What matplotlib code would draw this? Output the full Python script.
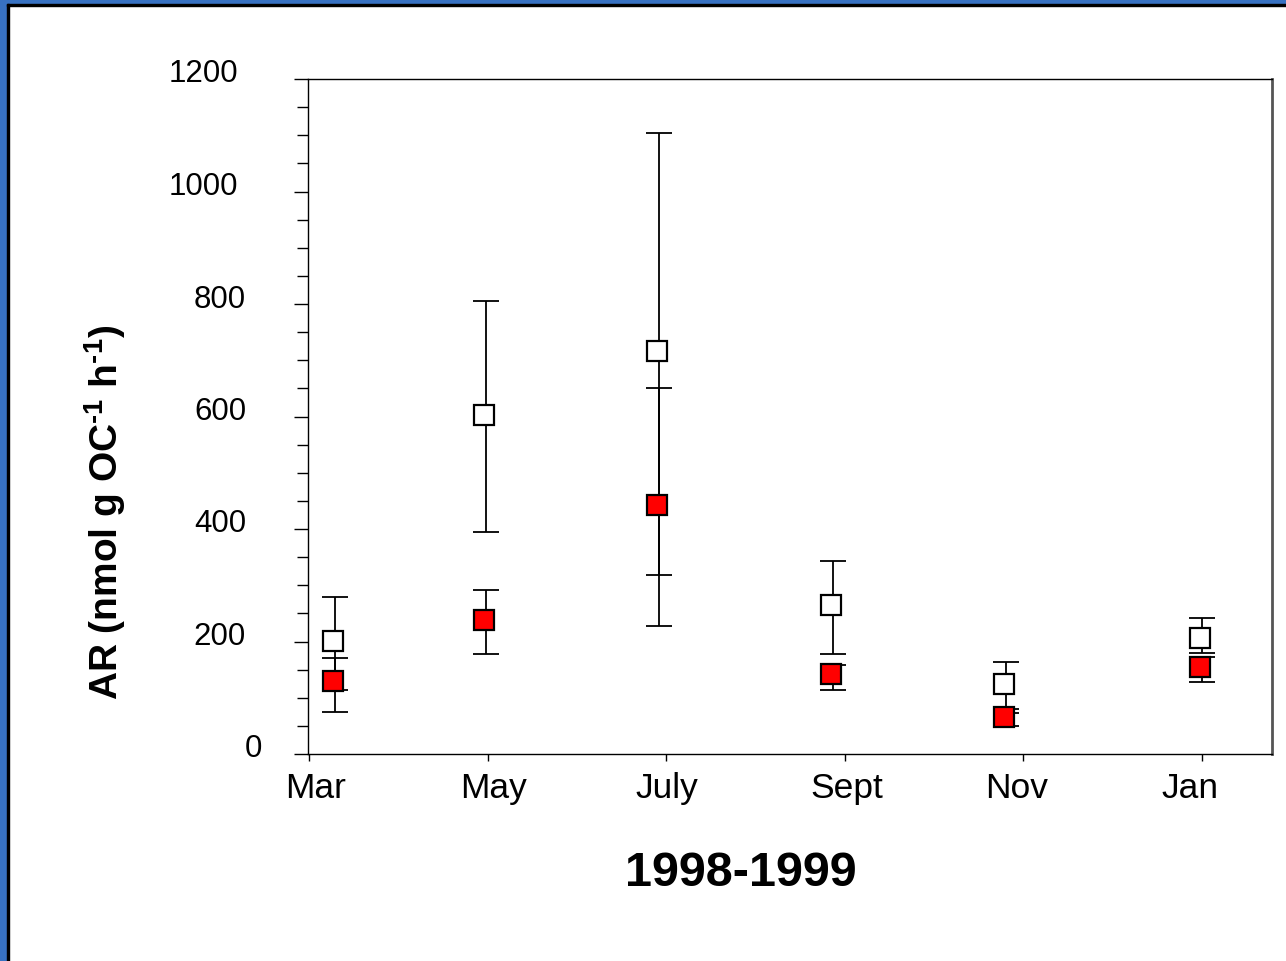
import matplotlib
matplotlib.use('Agg')
import matplotlib.pyplot as plt
import matplotlib.transforms as mtransforms
from matplotlib.patches import Rectangle

plt.rcParams['font.family'] = ['Liberation Sans', 'DejaVu Sans']
plt.rcParams['mathtext.fontset'] = 'custom'
plt.rcParams['mathtext.rm'] = 'Liberation Sans'
plt.rcParams['mathtext.bf'] = 'Liberation Sans:bold'

# month tick labels and sampling positions (in month-pair units from Mar)
months = ['Mar', 'May', 'July', 'Sept', 'Nov', 'Jan']
sample_x = [0.134, 0.98, 1.949, 2.923, 3.89, 4.989]

# open squares
open_y = [201, 603, 717, 265, 125, 207]
open_lo = [87, 208, 398, 87, 45, 27]
open_hi = [79, 202, 387, 79, 39, 35]

# red squares
red_y = [130, 239, 443, 143, 66, 155]
red_lo = [55, 61, 215, 29, 16, 27]
red_hi = [41, 53, 207, 15, 7, 18]

yticks = [0, 200, 400, 600, 800, 1000, 1200]

fig = plt.figure(figsize=(12.86, 9.62), dpi=100)
ax = fig.add_axes([308/1286, 1-755/962, (1272-308)/1286, (755-80)/962])

# small shift of the bars to the right, like the original
shift = mtransforms.ScaledTranslation(2/100, 0, fig.dpi_scale_trans)
etr = ax.transData + shift

ax.errorbar(sample_x, open_y, yerr=[open_lo, open_hi], fmt='none', ecolor='black',
            elinewidth=1.3, capsize=9.6, capthick=1.3, transform=etr, zorder=2)
ax.plot(sample_x, open_y, 's', ms=14, mfc='white', mec='black', mew=1.6, zorder=3)
ax.errorbar(sample_x, red_y, yerr=[red_lo, red_hi], fmt='none', ecolor='black',
            elinewidth=1.3, capsize=9.6, capthick=1.3, transform=etr, zorder=4)
ax.plot(sample_x, red_y, 's', ms=14, mfc='#ff0000', mec='black', mew=1.6, zorder=5)

ax.set_xlim(-0.006, 5.392)
ax.set_ylim(0, 1200)
ax.set_xticks(range(len(months)))
ax.set_xticklabels(months, fontsize=25.5)
ax.set_yticks(yticks)
ax.set_yticks(range(50, 1200, 50), minor=True)
ax.set_yticklabels([])
ax.tick_params(axis='y', which='major', direction='out', length=10, width=1)
ax.tick_params(axis='y', which='minor', direction='out', length=8, width=1)
ax.tick_params(axis='x', direction='out', length=5, width=1, pad=7)

# the month labels sit a little off their ticks in the original
for lab, dx in zip(ax.get_xticklabels(), [6, 6, 1, 2, -7, -12]):
    lab.set_transform(lab.get_transform() + mtransforms.ScaledTranslation(dx/100, 0, fig.dpi_scale_trans))

for sp in ['left', 'bottom', 'top']:
    ax.spines[sp].set_linewidth(1)
ax.spines['right'].set_linewidth(2)
ax.spines['right'].set_color('#555555')

# y tick labels, placed like the original
for v in yticks:
    n = len(str(v))
    ax.annotate(str(v), xy=(0, v), xycoords=('axes fraction', 'data'),
                xytext=(-70 + 8*(4-n), 5.5), textcoords='offset pixels',
                ha='right', va='center', fontsize=22.5)

fig.text(741/1286, 1-886/962, '1998-1999', fontsize=35, fontweight='bold',
         ha='center', va='baseline')
fig.text(105/1286, 1-512/962, 'AR (nmol g OC$^{\\mathbf{\u20101}}$ h$^{\\mathbf{\u20101}}$)',
         fontsize=28, fontweight='bold', rotation=90, ha='center', va='center')

# slide frame: blue edge with thin black line on left and top
W, H = 1286, 962
fig.patches.append(Rectangle((0, 0), 7/W, 1, transform=fig.transFigure, color='#3872C2', zorder=10))
fig.patches.append(Rectangle((0, 1-5/H), 1, 5/H, transform=fig.transFigure, color='#3872C2', zorder=10))
fig.patches.append(Rectangle((7/W, 0), 2/W, 1-5/H, transform=fig.transFigure, color='black', zorder=10))
fig.patches.append(Rectangle((7/W, 1-7/H), 1-7/W, 2/H, transform=fig.transFigure, color='black', zorder=10))

fig.savefig('out.png', dpi=100)
